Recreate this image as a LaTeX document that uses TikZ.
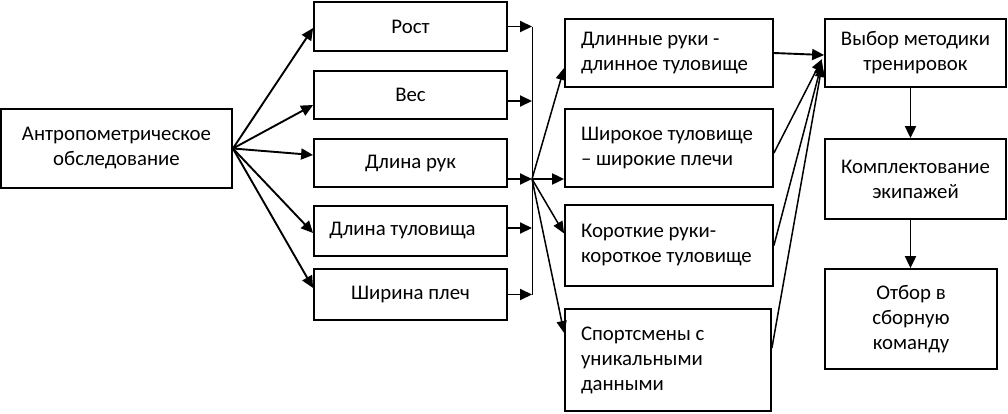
\documentclass[tikz,border=0pt]{standalone}
\usepackage{fontspec}
\setmainfont{Carlito}
\usetikzlibrary{arrows.meta,calc}
\tikzset{
  box/.style={draw, line width=1.8pt, inner sep=0pt, align=flush center},
  lbox/.style={box, align=flush left, text width=#1, inner xsep=16pt},
  arr/.style={-{Triangle[length=12pt,width=11pt]}, line width=1.9pt},
  thinarr/.style={-{Triangle[length=12pt,width=10pt]}, line width=1.5pt},
}
\begin{document}
\begin{tikzpicture}[x=1pt, y=-1pt, font=\fontsize{20.8}{25}\selectfont]
\useasboundingbox (0,0) rectangle (1008,413);

% first column
\node[box, minimum width=231pt, minimum height=79pt] (antro) at (116.5,148.5) {Антропометрическое\\обследование};

% measured parameters
\node[box, minimum width=193pt, minimum height=49pt] (rost) at (410.5,26.5) {Рост};
\node[box, minimum width=193pt, minimum height=48pt] (ves) at (410.5,95) {Вес};
\node[box, minimum width=193pt, minimum height=48pt] (dlruk) at (410.5,163) {Длина рук};
\node[box, minimum width=193pt, minimum height=50pt] (dltul) at (410.5,231) {Длина туловища\hspace*{16pt}};
\node[box, minimum width=193pt, minimum height=51pt] (shpl) at (410.5,294.5) {Ширина плеч};

% body types
\node[lbox=176pt, minimum height=68pt] (dlinnye) at (669,53) {Длинные руки -\\длинное туловище};
\node[lbox=176pt, minimum height=78pt] (shirokoe) at (669,148) {Широкое туловище\\– широкие плечи};
\node[lbox=176pt, minimum height=81pt] (korot) at (669,245.5) {Короткие руки-\\короткое туловище};
\node[lbox=174pt, minimum height=102pt] (sport) at (668,360) {Спортсмены с\\уникальными\\данными};

% decisions
\node[box, minimum width=181pt, minimum height=68pt] (vybor) at (915.5,53) {Выбор методики\\тренировок};
\node[box, minimum width=181pt, minimum height=80pt] (kompl) at (915.5,179) {Комплектование\\экипажей};
\node[box, minimum width=172pt, minimum height=100pt] (otbor) at (911,319) {Отбор в\\сборную\\команду};

% connectors
\coordinate (hub) at (532,179);
\draw[line width=0.8pt] (hub |- rost.east) -- (hub |- shpl.east);

\foreach \n/\dy in {rost/1.5, ves/10, dlruk/-8, dltul/2, shpl/-6.5}
  \draw[arr] (antro.east) -- ($(\n.west)+(0,\dy)$);

\foreach \n/\dy in {rost/0, ves/6, dltul/-3, shpl/0}
  \draw[arr] ($(\n.east)+(0,\dy)$) coordinate (s) -- (s -| hub);
\draw[arr] (dlruk.east |- hub) -- (hub);

\draw[thinarr] (hub) -- ($(dlinnye.west)+(0,15)$);
\draw[arr] (hub) -- (shirokoe.west |- hub);
\draw[thinarr] (hub) -- ($(korot.west)+(0,-12)$);
\draw[thinarr] (hub) -- ($(sport.west)+(0,-27)$);

\draw[arr] (dlinnye.east) -- ($(vybor.west)+(0,2)$);
\draw[thinarr] ($(shirokoe.east)+(0,5)$) -- ($(vybor.west)+(-2,6)$);
\draw[thinarr] (korot.east) -- ($(vybor.west)+(-2,9)$);
\draw[thinarr] ($(sport.east)+(0,-12)$) -- ($(vybor.west)+(-2,12)$);

\draw[arr] ([xshift=-5pt]vybor.south) -- ([xshift=-5pt]vybor.south |- kompl.north);
\draw[arr] ([xshift=-5pt]kompl.south) -- ([xshift=-5pt]kompl.south |- otbor.north);
\end{tikzpicture}
\end{document}
